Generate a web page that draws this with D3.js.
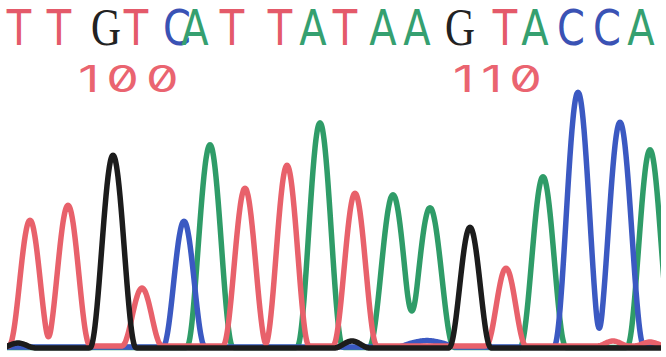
<!DOCTYPE html>
<html>
<head>
<meta charset="utf-8">
<script src="https://cdn.jsdelivr.net/npm/d3@7"></script>
<style>
  html, body { margin: 0; padding: 0; background: #fff; }
  svg { display: block; }
</style>
</head>
<body>
<div id="chart"></div>
<script>
// base calls shown on top, and where each call sits (scan units)
const bases = ["T","T","G","T","C","A","T","T","A","T","A","A","G","T","A","C","C","A"];
const basePos = [19, 59, 106, 136, 177, 195, 232, 280, 313, 345, 383, 417, 460, 505, 535, 571, 607, 641];
const firstBaseNumber = 97;

// called peaks: channel, scan position, intensity, half base width
const peakChannel = ["T","T","G","T","C","A","T","T","A","T","A","A","G","T","A","C","C","A"];
const peakScan    = [30, 68, 113, 142, 184, 210, 245, 287, 320, 355, 393, 430, 470, 506, 543, 578, 620, 650];
const peakHeight  = [126, 141, 193, 58, 126, 203, 158, 181, 225, 153, 153, 140, 118, 78, 171, 255, 225, 198];
const peakWidth   = [21, 22, 23, 20, 21, 23, 22, 22, 23, 22, 24, 24, 21, 20, 23, 24, 24, 23];

// small noise bumps near the baseline
const noiseChannel = ["G","G","G","A","C","C","T","T"];
const noiseScan    = [18, 352, 470, 197, 418, 436, 613, 650];
const noiseHeight  = [5, 7, 3, 4, 5, 5, 5, 4];
const noiseWidth   = [18, 18, 20, 12, 22, 22, 16, 16];

const channels = ["A","C","T","G"];            // drawing order, G (black) last
const channelOffset = {A: 0.5, C: 1, T: 2, G: 0};

const width = 666, height = 357;
const colors = {A: "#2f9c68", C: "#3b59c2", G: "#1c1c1c", T: "#e8616b"};
const letterColors = {A: "#35a070", C: "#3a52b4", G: "#222222", T: "#e45a6a"};

const x = d3.scaleLinear().domain([0, 666]).range([0, width]);
const y = d3.scaleLinear().domain([0, 260]).range([348, 88]);

const svg = d3.select("#chart").append("svg")
  .attr("width", width)
  .attr("height", height)
  .attr("viewBox", [0, 0, width, height]);

svg.append("defs").append("clipPath").attr("id", "plotClip")
  .append("rect").attr("x", 7).attr("y", 0).attr("width", 654).attr("height", height);

// raised cosine peak shape
function bump(s, p, w) {
  const d = Math.abs(s - p);
  if (d >= w) return 0;
  const c = Math.cos(Math.PI * d / (2 * w));
  return c * c;
}

function signal(ch, s) {
  let v = channelOffset[ch];
  peakScan.forEach((p, i) => {
    if (peakChannel[i] === ch) v += peakHeight[i] * bump(s, p, peakWidth[i]);
  });
  noiseScan.forEach((p, i) => {
    if (noiseChannel[i] === ch) v += noiseHeight[i] * bump(s, p, noiseWidth[i]);
  });
  return v;
}

const scans = d3.range(0, 667, 1);
const line = d3.line()
  .x(d => x(d[0]))
  .y(d => y(d[1]))
  .curve(d3.curveBasis);

const traces = svg.append("g").attr("clip-path", "url(#plotClip)");
channels.forEach(ch => {
  traces.append("path")
    .datum(scans.map(s => [s, signal(ch, s)]))
    .attr("fill", "none")
    .attr("stroke", colors[ch])
    .attr("stroke-width", 5.5)
    .attr("stroke-linejoin", "round")
    .attr("d", line);
});

// base letters
svg.append("g").selectAll("text")
  .data(bases)
  .join("text")
  .attr("transform", (d, i) => `translate(${x(basePos[i])},45) scale(0.8,1)`)
  .attr("text-anchor", "middle")
  .attr("font-family", d => d === "G" ? "Liberation Serif" : "DejaVu Sans")
  .attr("font-size", d => d === "G" ? 52 : 50)
  .attr("fill", d => letterColors[d])
  .text(d => d);

// position numbers every 10 bases
const numbered = bases.map((b, i) => i).filter(i => (firstBaseNumber + i) % 10 === 0);
svg.append("g").selectAll("text")
  .data(numbered)
  .join("text")
  .attr("transform", i => `translate(${x(basePos[i]) - 4},92) scale(1.4,1)`)
  .attr("text-anchor", "middle")
  .attr("font-family", "Inter")
  .style("font-feature-settings", "'zero' 1")
  .attr("font-size", 37)
  .attr("letter-spacing", 5)
  .attr("fill", "#ea6470")
  .text(i => String(firstBaseNumber + i));
</script>
</body>
</html>
